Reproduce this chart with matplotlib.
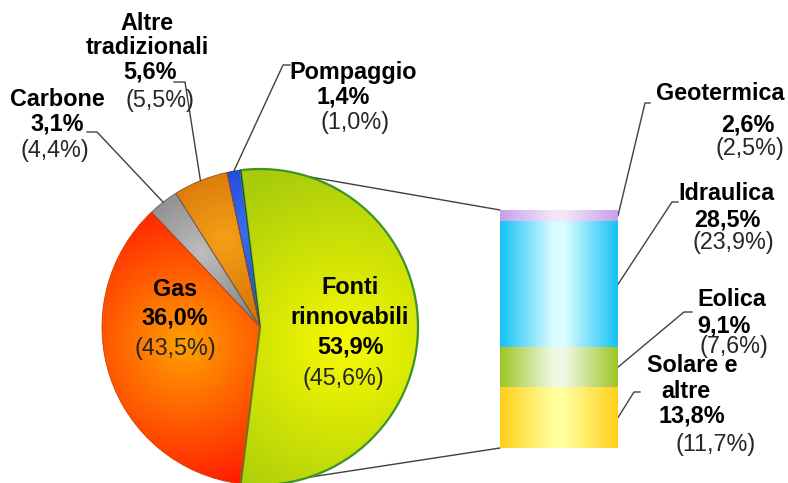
import numpy as np
import matplotlib
matplotlib.use('Agg')
import matplotlib.pyplot as plt
from matplotlib.colors import LinearSegmentedColormap
from matplotlib.patches import ConnectionPatch

plt.rcParams['font.family'] = ['Liberation Sans', 'DejaVu Sans']

# Coverage of demand by source (current year, previous year in parentheses)
pie_names = ['Fonti\nrinnovabili', 'Pompaggio', 'Altre\ntradizionali', 'Carbone', 'Gas']
pie_values = [53.9, 1.4, 5.6, 3.1, 36.0]
pie_previous = [45.6, 1.0, 5.5, 4.4, 43.5]

# Breakdown of the renewable share, stacked from the bottom up
bar_names = ['Solare e\naltre', 'Eolica', 'Idraulica', 'Geotermica']
bar_values = [13.8, 9.1, 28.5, 2.6]
bar_previous = [11.7, 7.6, 23.9, 2.5]

W, H = 788, 483
FS = 16.8
LINE = '#404040'


def pct(v):
    return f'{v:.1f}%'.replace('.', ',')


def top(x, y):
    """Layout positions are given from the top-left corner of the canvas."""
    return x, H - y


fig = plt.figure(figsize=(W / 100, H / 100), dpi=100)
fig.patch.set_facecolor('white')
ax = fig.add_axes([0, 0, 1, 1])

# ---- pie -------------------------------------------------------------
cx, cy = top(260, 327)
R = 158
start = -pie_values[0] * 3.6 / 2
wedges, _ = ax.pie(pie_values, startangle=start, counterclock=True,
                   center=(cx, cy), radius=R, frame=True)

pie_style = {
    'Fonti\nrinnovabili': dict(inner='#f8fa00', outer='#a8cc0c', edge='#3c9428', lw=1.6,
                               focus=top(345, 345), reach=185),
    'Pompaggio': dict(inner='#3a6cf4', outer='#1432c8', edge='#203080', lw=0.6),
    'Altre\ntradizionali': dict(inner='#f6a018', outer='#c86000', edge='#905020', lw=0.6),
    'Carbone': dict(inner='#bdbdbd', outer='#6c6c6c', edge='#606060', lw=0.6),
    'Gas': dict(inner='#ffa000', outer='#ff1a00', edge='#d04000', lw=0.6,
                focus=top(185, 345), reach=150),
}

n = 500
xs = np.linspace(cx - R, cx + R, n)
ys = np.linspace(cy - R, cy + R, n)
X, Y = np.meshgrid(xs, ys)
for w, name in zip(wedges, pie_names):
    st = pie_style[name]
    mid = np.deg2rad((w.theta1 + w.theta2) / 2)
    focus = st.get('focus', (cx + 0.6 * R * np.cos(mid), cy + 0.6 * R * np.sin(mid)))
    reach = st.get('reach', 0.75 * R)
    d = np.clip(np.hypot(X - focus[0], Y - focus[1]) / reach, 0, 1)
    cmap = LinearSegmentedColormap.from_list(name, [st['inner'], st['outer']])
    im = ax.imshow(d, cmap=cmap, vmin=0, vmax=1, origin='lower',
                   extent=(cx - R, cx + R, cy - R, cy + R),
                   interpolation='bilinear', zorder=1)
    im.set_clip_path(w)
    w.set_facecolor('none')
    w.set_edgecolor(st['edge'])
    w.set_linewidth(st['lw'])
    w.set_zorder(2)

# Label lines: name lines, share, previous share
pie_label_pos = {
    'Fonti\nrinnovabili': [(350, 288), (350, 317), (350, 347), (343, 378)],
    'Pompaggio': [(353, 73), (343, 97), (355, 122)],
    'Altre\ntradizionali': [(147, 23), (147, 47), (150, 72), (160, 101)],
    'Carbone': [(57, 99), (57, 124), (55, 151)],
    'Gas': [(175, 290), (175, 318), (175, 349)],
}
pie_leaders = {
    'Pompaggio': [(290, 65), (283, 65)],
    'Altre\ntradizionali': [(174, 82), (185, 82)],
    'Carbone': [(87, 132), (97, 132)],
}


def draw_label(name, value, prev, positions):
    lines = name.split('\n') + [pct(value), f'({pct(prev)})']
    for i, (txt, pos) in enumerate(zip(lines, positions)):
        bold = i < len(lines) - 1
        ax.text(*top(*pos), txt, ha='center', va='center', fontsize=FS,
                fontweight='bold' if bold else 'normal',
                color='black' if bold else '#262626', zorder=5)


for w, name, v, p in zip(wedges, pie_names, pie_values, pie_previous):
    draw_label(name, v, p, pie_label_pos[name])
    if name in pie_leaders:
        mid = np.deg2rad((w.theta1 + w.theta2) / 2)
        pts = [top(*q) for q in pie_leaders[name]]
        pts.append((cx + R * np.cos(mid), cy + R * np.sin(mid)))
        px, py = zip(*pts)
        ax.plot(px, py, color=LINE, lw=1.0, zorder=4)

ax.set_xlim(0, W)
ax.set_ylim(0, H)
ax.set_aspect('auto')
ax.axis('off')

# ---- stacked column of the renewable share --------------------------
bx0, by0 = 500, 448
bw, bh = 118, 238
axb = fig.add_axes([bx0 / W, (H - by0) / H, bw / W, bh / H])
total = sum(bar_values)
bottoms = np.concatenate([[0], np.cumsum(bar_values)[:-1]])
bars = axb.bar(0, bar_values, bottom=bottoms, width=1.0, color='none', linewidth=0)
axb.set_xlim(-0.5, 0.5)
axb.set_ylim(0, total)
axb.axis('off')

bar_colors = {
    'Solare e\naltre': ('#ffd01a', '#ffff9c'),
    'Eolica': ('#9cc626', '#f0f8e4'),
    'Idraulica': ('#14c2f6', '#dafcff'),
    'Geotermica': ('#c6a0ec', '#f2e6fa'),
}
grad = np.linspace(0, 1, 256)[None, :]
for b, name in zip(bars, bar_names):
    edge, centre = bar_colors[name]
    cmap = LinearSegmentedColormap.from_list(
        name, [(0, edge), (0.45, centre), (0.55, centre), (1, edge)])
    axb.imshow(grad, cmap=cmap, aspect='auto', interpolation='bilinear',
               extent=(b.get_x(), b.get_x() + b.get_width(),
                       b.get_y(), b.get_y() + b.get_height()), zorder=1)
axb.set_xlim(-0.5, 0.5)
axb.set_ylim(0, total)

bar_label_pos = {
    'Geotermica': [(720, 93), (748, 125), (750, 149)],
    'Idraulica': [(726, 193), (727, 220), (733, 243)],
    'Eolica': [(732, 300), (724, 326), (734, 347)],
    'Solare e\naltre': [(692, 366), (686, 391), (692, 416), (716, 445)],
}
bar_leaders = {
    'Geotermica': [(650, 103), (645, 103)],
    'Idraulica': [(678, 202), (672, 202)],
    'Eolica': [(692, 312), (684, 312)],
    'Solare e\naltre': [(640, 392), (634, 392)],
}

to_main = ax.transData.inverted()
for b, name, v, p in zip(bars, bar_names, bar_values, bar_previous):
    draw_label(name, v, p, bar_label_pos[name])
    anchor = axb.transData.transform((b.get_x() + b.get_width(),
                                      b.get_y() + b.get_height() / 2))
    pts = [top(*q) for q in bar_leaders[name]]
    pts.append(tuple(to_main.transform(anchor)))
    px, py = zip(*pts)
    ax.plot(px, py, color=LINE, lw=1.0, zorder=4)

# ---- connectors from the renewable wedge to the column ---------------
connector_angle = 72
for sign, yb in ((1, total), (-1, 0)):
    a = np.deg2rad(sign * connector_angle)
    con = ConnectionPatch(xyA=(cx + R * np.cos(a), cy + R * np.sin(a)), coordsA=ax.transData,
                          xyB=(-0.5, yb), coordsB=axb.transData,
                          color=LINE, lw=1.0, zorder=0)
    fig.add_artist(con)

fig.savefig('out.png', dpi=100, facecolor='white')
